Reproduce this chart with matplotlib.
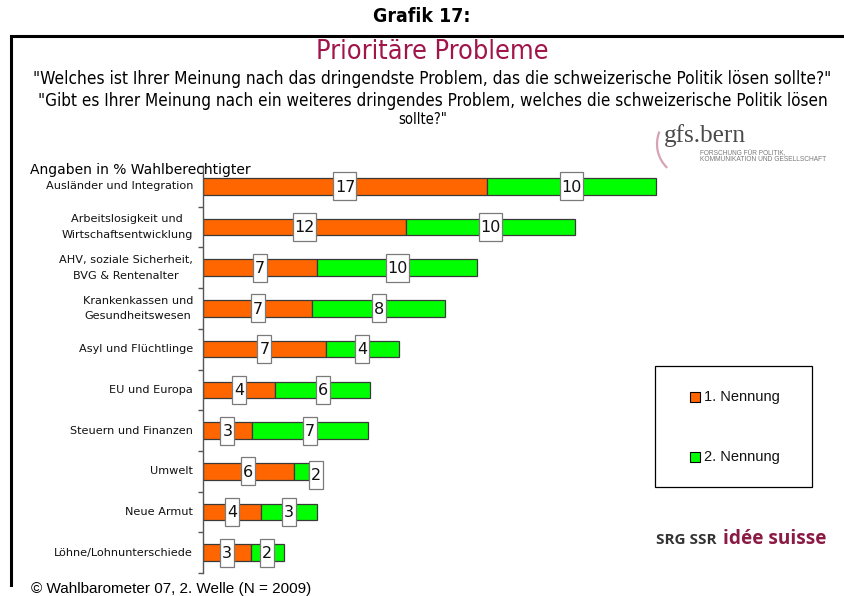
import matplotlib
matplotlib.use("Agg")
import matplotlib.pyplot as plt
import numpy as np
import matplotlib.transforms as mtrans
from matplotlib import font_manager as fm
from matplotlib.patches import Rectangle, Arc
from matplotlib.lines import Line2D

# ---------------- data ----------------
categories = [
    "Ausländer und Integration",
    "Arbeitslosigkeit und\nWirtschaftsentwicklung",
    "AHV, soziale Sicherheit,\nBVG & Rentenalter",
    "Krankenkassen und\nGesundheitswesen",
    "Asyl und Flüchtlinge",
    "EU und Europa",
    "Steuern und Finanzen",
    "Umwelt",
    "Neue Armut",
    "Löhne/Lohnunterschiede",
]
first_mention = [16.9, 12.1, 6.8, 6.5, 7.3, 4.3, 2.9, 5.4, 3.45, 2.85]
second_mention = [10.05, 10.05, 9.5, 7.9, 4.35, 5.65, 6.95, 0.9, 3.35, 1.95]
first_labels = [17, 12, 7, 7, 7, 4, 3, 6, 4, 3]
second_labels = [10, 10, 10, 8, 4, 6, 7, 2, 3, 2]
series_names = ["1. Nennung", "2. Nennung"]
series_colors = ["#FF6600", "#00FF00"]

title_fig = "Grafik 17:"
title = "Prioritäre Probleme"
question_lines = [
    "\"Welches ist Ihrer Meinung nach das dringendste Problem, das die schweizerische Politik lösen sollte?\"",
    "\"Gibt es Ihrer Meinung nach ein weiteres dringendes Problem, welches die schweizerische Politik lösen",
    "sollte?\"",
]
axis_note = "Angaben in % Wahlberechtigter"
footer = "© Wahlbarometer 07, 2. Welle (N = 2009)"


# ---------------- condensed font lookup ----------------
def find_condensed(bold):
    best = None
    for f in fm.fontManager.ttflist:
        name = f.name.lower()
        fname = f.fname.lower()
        cond = (f.stretch == "condensed" or "narrow" in name or "condensed" in name
                or "narrow" in fname or "condensed" in fname)
        if not cond or f.style != "normal":
            continue
        w = f.weight if isinstance(f.weight, int) else (700 if "bold" in str(f.weight) else 400)
        if bold and w < 600:
            continue
        if not bold and w >= 600:
            continue
        if "mono" in name or "serif" in name and "sans" not in name:
            continue
        score = 0
        if "liberation" in name or "liberation" in fname:
            score += 2
        if "sans" in name:
            score += 1
        if best is None or score > best[0]:
            best = (score, f.fname)
    if best is None:
        return fm.FontProperties(family="Liberation Sans", weight="bold" if bold else "normal")
    return fm.FontProperties(fname=best[1])


FP_NARROW = find_condensed(False)
FP_NARROW_B = find_condensed(True)

# ---------------- figure ----------------
W, H = 844, 596
fig = plt.figure(figsize=(W / 100, H / 100), dpi=100)
fig.patch.set_facecolor("white")


def fx(px):
    return px / W


def fy(py):
    return 1 - py / H


renderer = fig.canvas.get_renderer()


def fit_text(t, target_w):
    bb = t.get_window_extent(renderer=renderer)
    if bb.width > 0:
        t.set_fontsize(t.get_fontsize() * target_w / bb.width)
    return t


# outer frame
fig.add_artist(Line2D([fx(11), fx(11), fx(846)], [fy(585), fy(36), fy(36)],
                      transform=fig.transFigure, color="black", lw=2.2,
                      solid_joinstyle="miter"))

t = fig.text(fx(422), fy(17), title_fig, ha="center", va="center",
             fontproperties=FP_NARROW_B.copy())
t.set_fontsize(14)
fit_text(t, 98)

t = fig.text(fx(432), fy(52), title, ha="center", va="center",
             color="#A0154A", fontproperties=FP_NARROW.copy())
t.set_fontsize(17)
fit_text(t, 231)

q_y = [79, 101, 119]
q_w = [795, 786, 49]
q_x = [432, 433, 423]
for line, yy, ww, xx in zip(question_lines, q_y, q_w, q_x):
    t = fig.text(fx(xx), fy(yy), line, ha="center", va="center",
                 color="black", fontproperties=FP_NARROW.copy())
    t.set_fontsize(12)
    fit_text(t, ww)

t = fig.text(fx(30), fy(170), axis_note, ha="left", va="center",
             fontsize=9.5, family="DejaVu Sans")
fit_text(t, 224)

t = fig.text(fx(31), fy(589), footer, ha="left", va="center",
             fontsize=10.5, family="Liberation Sans")
fit_text(t, 282)

# gfs.bern logo
fig.add_artist(Arc((fx(690), fy(144)), 66 / W, 66 / H, theta1=150, theta2=236,
                   transform=fig.transFigure, color="#D8A2B6", lw=1.6))
t = fig.text(fx(664), fy(142), "gfs.bern", ha="left", va="baseline",
             fontsize=17, color="#4a4a4a", family="Liberation Serif")
fit_text(t, 82)
t = fig.text(fx(700), fy(154), "FORSCHUNG FÜR POLITIK,", ha="left", va="center",
             fontsize=4.3, color="#7a7a7a", family="Liberation Sans")
fit_text(t, 86)
t = fig.text(fx(700), fy(159.5), "KOMMUNIKATION UND GESELLSCHAFT", ha="left", va="center",
             fontsize=4.3, color="#7a7a7a", family="Liberation Sans")
fit_text(t, 128)

# SRG SSR idée suisse
t = fig.text(fx(656), fy(544), "SRG SSR", ha="left", va="baseline",
             fontsize=10, fontweight="bold", color="#333333", family="Open Sans")
fit_text(t, 60)
t = fig.text(fx(723), fy(544), "idée suisse", ha="left", va="baseline",
             fontsize=12.5, fontweight="bold", color="#8B1A44", family="Open Sans")
fit_text(t, 103)

# ---------------- axes ----------------
ax_l, ax_r, ax_t, ax_b = 203, 840, 166, 573
ax = fig.add_axes([fx(ax_l), fy(ax_b), (ax_r - ax_l) / W, (ax_b - ax_t) / H])
ax.set_facecolor("none")
px_per_unit = 16.8
ax.set_xlim(0, (ax_r - ax_l) / px_per_unit)
n = len(categories)
ax.set_ylim(n - 0.5, -0.5)
py_per_unit = (ax_b - ax_t) / n

for s in ["top", "right", "bottom"]:
    ax.spines[s].set_visible(False)
ax.spines["left"].set_color("#555555")
ax.spines["left"].set_linewidth(1.0)
ax.set_xticks([])
ax.set_yticks(np.arange(-0.5, n, 1.0))
ax.set_yticklabels([])
ax.tick_params(axis="y", length=3.5, width=1.0, color="#555555", direction="out")

y = np.arange(n)
bar_h = 0.41
ax.barh(y, first_mention, height=bar_h, color=series_colors[0],
        edgecolor="#3a3a3a", linewidth=0.9, zorder=2)
ax.barh(y, second_mention, left=first_mention, height=bar_h, color=series_colors[1],
        edgecolor="#3a3a3a", linewidth=0.9, zorder=2)

# category labels
trans = mtrans.blended_transform_factory(fig.transFigure, ax.transData)
for i, c in enumerate(categories):
    ax.text(fx(193), i, c, transform=trans, ha="right", va="center",
            multialignment="center", fontsize=8.1, linespacing=1.7,
            family="DejaVu Sans", color="#111111")


# value label boxes
def box_w(txt):
    return (14 if len(str(txt)) == 1 else 23) / px_per_unit


def label_box(cx, cy, txt):
    bw = box_w(txt)
    bh = 28 / py_per_unit
    ax.add_patch(Rectangle((cx - bw / 2, cy - bh / 2), bw, bh, facecolor="white",
                           edgecolor="#7a7a7a", lw=0.9, zorder=4))
    ax.text(cx, cy + 0.02, str(txt), ha="center", va="center", fontsize=11.5,
            family="DejaVu Sans", color="#111111", zorder=5)


for i in range(n):
    a, b = first_mention[i], second_mention[i]
    label_box(a / 2, i, first_labels[i])
    bw = box_w(second_labels[i])
    if b < 1.5 * bw:
        label_box(a + b + bw / 2, i + 0.09, second_labels[i])
    else:
        label_box(a + b / 2, i, second_labels[i])

# ---------------- legend ----------------
fig.add_artist(Rectangle((fx(655), fy(487)), (812 - 655) / W, (487 - 366) / H,
                         transform=fig.transFigure, fill=False, edgecolor="black", lw=0.9))
for name, col, yy in zip(series_names, series_colors, [397, 457]):
    fig.add_artist(Rectangle((fx(690), fy(yy + 5)), 10 / W, 10 / H, transform=fig.transFigure,
                             facecolor=col, edgecolor="black", lw=0.8))
    fig.text(fx(704), fy(yy), name, ha="left", va="center", fontsize=10.5,
             family="Liberation Sans", color="#111111")

fig.savefig("out.png", dpi=100)
